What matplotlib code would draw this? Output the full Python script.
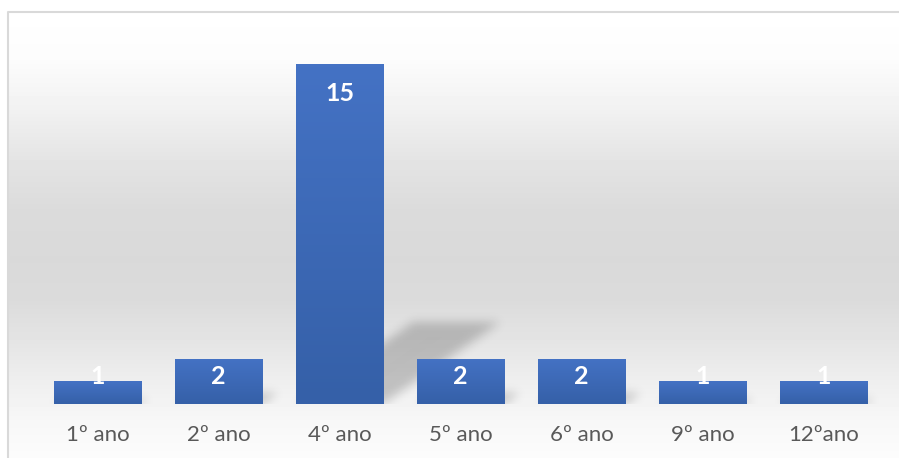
import matplotlib
matplotlib.use('Agg')
import matplotlib.pyplot as plt
from matplotlib.colors import LinearSegmentedColormap
import numpy as np

plt.rcParams['font.family'] = ['Lato', 'DejaVu Sans']

categorias = ['1º ano', '2º ano', '4º ano', '5º ano', '6º ano', '9º ano', '12ºano']
alunos = [1, 2, 15, 2, 2, 1, 1]

W, H = 899, 458
fig = plt.figure(figsize=(W / 100, H / 100), dpi=100)

# fundo: gradiente vertical branco -> cinza -> branco, com moldura
bg = fig.add_axes([0, 0, 1, 1])
stops_y = [11, 60, 110, 160, 210, 260, 300, 340, 380, 420, 458]
stops_v = [255, 252, 241, 228, 219, 217, 219, 228, 238, 247, 252]
rows = np.interp(np.arange(11, H) + 0.5, stops_y, stops_v) / 255
grad = np.repeat(rows[:, None], W - 8, axis=1)
bg.imshow(grad, cmap='gray', vmin=0, vmax=1, extent=(8, W, H, 11),
          aspect='auto', interpolation='nearest')
bg.plot([7.5, 7.5, W], [H, 11.5, 11.5], color='#d9d9d9', lw=1.5)
bg.set_xlim(0, W)
bg.set_ylim(H, 0)
bg.axis('off')

# area do grafico
ax_px = (37, 404, 847, 363)  # left, bottom (px from top), width, height
ax = fig.add_axes([ax_px[0] / W, (H - ax_px[1]) / H, ax_px[2] / W, ax_px[3] / H])
ax.patch.set_alpha(0)
x = np.arange(len(categorias))
largura = 0.72
ymax = 16

bars = ax.bar(x, alunos, width=largura, color='#4472c4', zorder=3)

# gradiente dentro de cada barra
cmap_barra = LinearSegmentedColormap.from_list('barra', ['#3560a8', '#4472c4'])
for b in bars:
    im = ax.imshow(np.linspace(0, 1, 64)[:, None], cmap=cmap_barra, origin='lower',
                   extent=(b.get_x(), b.get_x() + b.get_width(), 0, b.get_height()),
                   aspect='auto', zorder=4, interpolation='bilinear')
    im.set_clip_path(b)

# sombra em perspectiva atras das barras
nx, ny = ax_px[2], ax_px[3]
xs = -0.5 + (np.arange(nx) + 0.5) / nx * len(categorias)
ys = (np.arange(ny) + 0.5) / ny * ymax
X, Y = np.meshgrid(xs, ys)
mask = np.zeros((ny, nx))
for i, v in zip(x, alunos):
    hs = 0.241 * v
    xr = X - 0.268 * Y
    dentro = (Y <= hs) & (xr >= i - largura / 2) & (xr <= i + largura / 2)
    mask[dentro] = 1.0
k = np.arange(-15, 16)
kern = np.exp(-k ** 2 / (2 * 5.0 ** 2))
kern /= kern.sum()
mask = np.apply_along_axis(lambda r: np.convolve(r, kern, mode='same'), 1, mask)
mask = np.apply_along_axis(lambda c: np.convolve(c, kern, mode='same'), 0, mask)
sombra = np.zeros((ny, nx, 4))
sombra[..., 3] = mask * 0.2
ax.imshow(sombra, origin='lower', extent=(-0.5, len(categorias) - 0.5, 0, ymax),
          aspect='auto', zorder=2, interpolation='nearest')

for i, v in zip(x, alunos):
    ax.text(i, max(v - 1.3, 1.2), str(v), ha='center', va='center',
            color='white', fontweight='bold', fontsize=18, zorder=6)

ax.set_xlim(-0.5, len(categorias) - 0.5)
ax.set_ylim(0, ymax)
ax.set_xticks(x, categorias)
ax.set_yticks([])
ax.tick_params(axis='x', length=0, pad=15, labelsize=16, labelcolor='#595959')
for s in ax.spines.values():
    s.set_visible(False)

fig.savefig('out.png', dpi=100)
